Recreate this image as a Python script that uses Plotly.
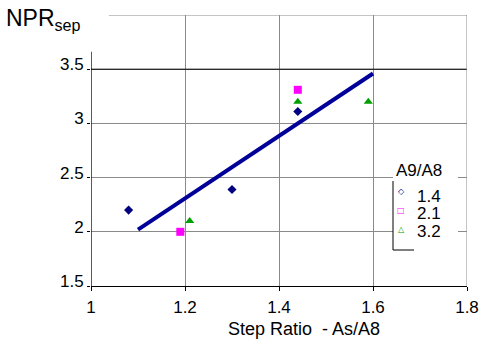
import plotly.graph_objects as go

# ---- data ----
x_14 = [1.08, 1.30, 1.44]
y_14 = [2.20, 2.39, 3.11]
x_21 = [1.19, 1.44]
y_21 = [2.00, 3.31]
x_32 = [1.21, 1.44, 1.59]
y_32 = [2.10, 3.20, 3.20]
trend_x = [1.10, 1.60]
trend_y = [2.02, 3.46]

x_ticks = [1, 1.2, 1.4, 1.6, 1.8]
x_ticktext = ["1", "1.2", "1.4", "1.6", "1.8"]
y_ticks = [1.5, 2, 2.5, 3, 3.5]
y_ticktext = ["1.5", "2", "2.5", "3", "3.5"]
legend_title = "A9/A8"
legend_labels = ["1.4", "2.1", "3.2"]

NAVY = "#000080"
LINE = "#000099"
MAG = "#FF00FF"
GRN = "#00A000"
GRID = "#8a8a8a"
FONT = "Liberation Sans, Arial, sans-serif"

fig = go.Figure()
fig.add_trace(go.Scatter(x=trend_x, y=trend_y, mode="lines",
                         line=dict(color=LINE, width=4), showlegend=False))
fig.add_trace(go.Scatter(x=x_14, y=y_14, mode="markers", name=legend_labels[0],
                         marker=dict(symbol="diamond", size=7, color=NAVY), showlegend=False))
fig.add_trace(go.Scatter(x=x_21, y=y_21, mode="markers", name=legend_labels[1],
                         marker=dict(symbol="square", size=8, color=MAG), showlegend=False))
fig.add_trace(go.Scatter(x=x_32, y=y_32, mode="markers", name=legend_labels[2],
                         marker=dict(symbol="triangle-up", size=8, color=GRN), showlegend=False))

# plot area in pixels: x 91..467, y 15..286
def px(v):
    return (v - 91) / 376.0

def py(v):
    return (286 - v) / 271.0

shapes = []
shapes.append(dict(type="line", xref="x", yref="y", x0=1, x1=1.8, y0=3.5, y1=3.5,
                   line=dict(color="black", width=1), layer="between"))
shapes.append(dict(type="line", xref="x", yref="y", x0=1.038, x1=1.8, y0=4.0, y1=4.0,
                   line=dict(color=GRID, width=1), layer="between"))
shapes.append(dict(type="line", xref="x", yref="y", x0=1.8, x1=1.8, y0=1.5, y1=4.0,
                   line=dict(color=GRID, width=1), layer="between"))
shapes.append(dict(type="line", xref="x", yref="y", x0=1, x1=1, y0=1.5, y1=3.66,
                   line=dict(color="black", width=1.3), layer="above"))
shapes.append(dict(type="rect", xref="paper", yref="paper", x0=px(393), x1=px(458),
                   y0=py(252), y1=py(157), fillcolor="white", line=dict(width=0), layer="above"))
shapes.append(dict(type="line", xref="paper", yref="paper", x0=px(393), x1=px(393),
                   y0=py(181), y1=py(250), line=dict(color="black", width=1), layer="above"))
shapes.append(dict(type="line", xref="paper", yref="paper", x0=px(393), x1=px(414),
                   y0=py(250), y1=py(250), line=dict(color="black", width=1), layer="above"))

annotations = []
annotations.append(dict(text="NPR<sub>sep</sub>", xref="paper", yref="paper",
                        x=px(4), y=py(20), xanchor="left", yanchor="middle",
                        showarrow=False, font=dict(family=FONT, size=23, color="black")))
annotations.append(dict(text="Step Ratio\u00a0 - As/A8", xref="paper", yref="paper",
                        x=px(304), y=py(329), xanchor="center", yanchor="middle",
                        showarrow=False, font=dict(family=FONT, size=18, color="black")))
annotations.append(dict(text=legend_title, xref="paper", yref="paper",
                        x=px(394), y=py(170), xanchor="left", yanchor="middle",
                        showarrow=False, font=dict(family=FONT, size=17, color="black")))
leg_sym = ["\u25C7", "\u25A1", "\u25B3"]
leg_col = [NAVY, MAG, GRN]
leg_y = [196, 213.5, 231]
sym_y = [191, 210, 229]
for lab, sym, col, yy, sy in zip(legend_labels, leg_sym, leg_col, leg_y, sym_y):
    annotations.append(dict(text=lab, xref="paper", yref="paper",
                            x=px(415), y=py(yy), xanchor="left", yanchor="middle",
                            showarrow=False, font=dict(family=FONT, size=17, color="black")))
    annotations.append(dict(text=sym, xref="paper", yref="paper",
                            x=px(401), y=py(sy), xanchor="center", yanchor="middle",
                            showarrow=False, font=dict(family="DejaVu Sans", size=8, color=col)))

fig.update_layout(
    width=487, height=349,
    margin=dict(l=91, r=20, t=15, b=63, autoexpand=False),
    paper_bgcolor="white", plot_bgcolor="white",
    showlegend=False,
    shapes=shapes, annotations=annotations,
    font=dict(family=FONT, size=17, color="black"),
)
fig.update_xaxes(range=[1, 1.8], tickvals=x_ticks, ticktext=x_ticktext,
                 showgrid=True, gridcolor=GRID, gridwidth=1,
                 showline=True, linecolor="black", linewidth=1.3,
                 ticks="outside", ticklen=4, tickcolor="black",
                 zeroline=False, ticklabelstandoff=1, automargin=False,
                 tickfont=dict(family=FONT, size=17, color="black"))
fig.update_yaxes(range=[1.5, 4.0], tickvals=y_ticks, ticktext=y_ticktext,
                 showgrid=True, gridcolor=GRID, gridwidth=1,
                 showline=False, ticks="outside", ticklen=3, tickcolor="black",
                 zeroline=False, ticklabelshift=-5, automargin=False,
                 tickfont=dict(family=FONT, size=17, color="black"))

fig.write_html("out.html")
